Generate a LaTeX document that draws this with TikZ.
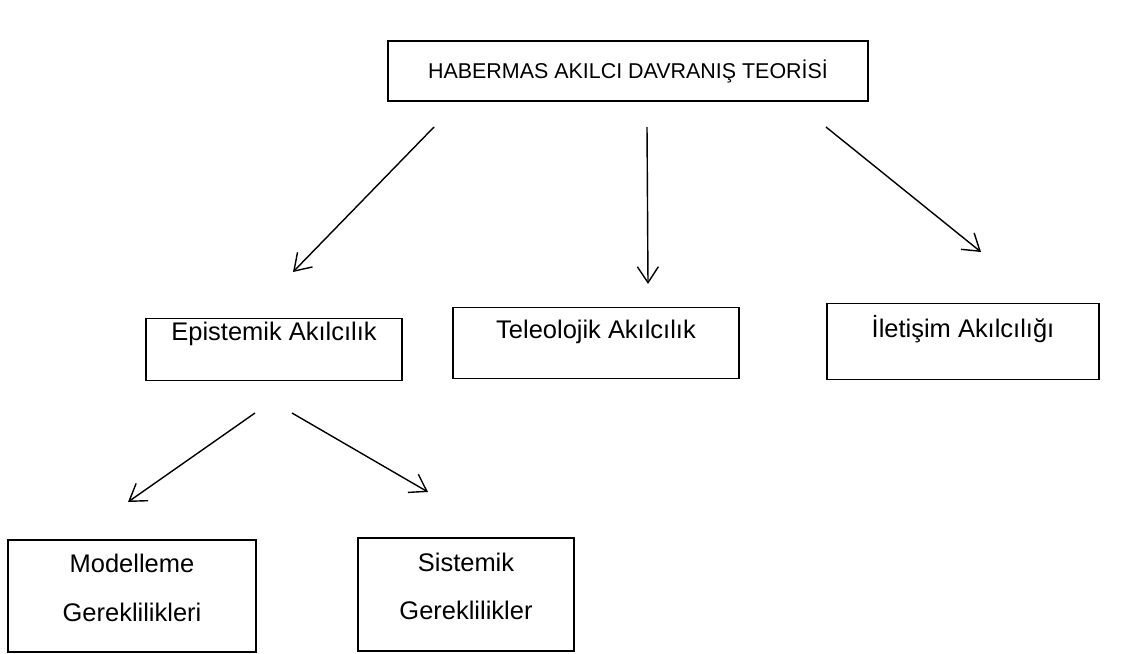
\documentclass[tikz,border=0pt]{standalone}
\usepackage{fontspec}
\setmainfont{Liberation Sans}
\usetikzlibrary{arrows.meta}

\begin{document}
\begin{tikzpicture}[x=0.02cm,y=-0.02cm,>={Straight Barb[length=3.2mm,width=4.2mm]},
  kutu/.style={draw=black,line width=0.7pt,inner sep=0pt,font=\fontsize{14.5}{27.5}\selectfont},
  ok/.style={->,line width=0.8pt}]

\useasboundingbox (0,0) rectangle (1122,653);

%Kutular
\node[kutu,minimum width=9.6cm,minimum height=1.2cm,font=\fontsize{12.2}{14}\selectfont] (teori) at (628,71) {HABERMAS AKILCI DAVRANIŞ TEORİSİ};
\node[kutu,anchor=north,minimum width=5.12cm,text height=0.44cm,text depth=0.8cm] (epis) at (274,318) {Epistemik Akılcılık};
\node[kutu,anchor=north,minimum width=5.72cm,text height=0.62cm,text depth=0.8cm] (teleo) at (596,307) {Teleolojik Akılcılık};
\node[kutu,anchor=north,minimum width=5.44cm,text height=0.68cm,text depth=0.84cm] (ileti) at (963,303) {İletişim Akılcılığı};
\node[kutu,align=center,minimum width=4.96cm,minimum height=2.24cm] (model) at (132,596) {Modelleme\\Gereklilikleri\\[-18pt]\mbox{}};
\node[kutu,align=center,minimum width=4.32cm,minimum height=2.26cm] (sist) at (466,594.5) {Sistemik\\Gereklilikler\\[-18pt]\mbox{}};

%Oklar
\coordinate (t1) at (434,127); \coordinate (e1) at (293,272);
\coordinate (t2) at (647,127); \coordinate (e2) at (648,284);
\coordinate (t3) at (826,127); \coordinate (e3) at (981,252);
\coordinate (t4) at (255,413); \coordinate (e4) at (128,502);
\coordinate (t5) at (292,413); \coordinate (e5) at (428,492);
\draw[ok] (t1) -- (e1);
\draw[ok] (t2) -- (e2);
\draw[ok] (t3) -- (e3);
\draw[ok] (t4) -- (e4);
\draw[ok] (t5) -- (e5);

\end{tikzpicture}
\end{document}
